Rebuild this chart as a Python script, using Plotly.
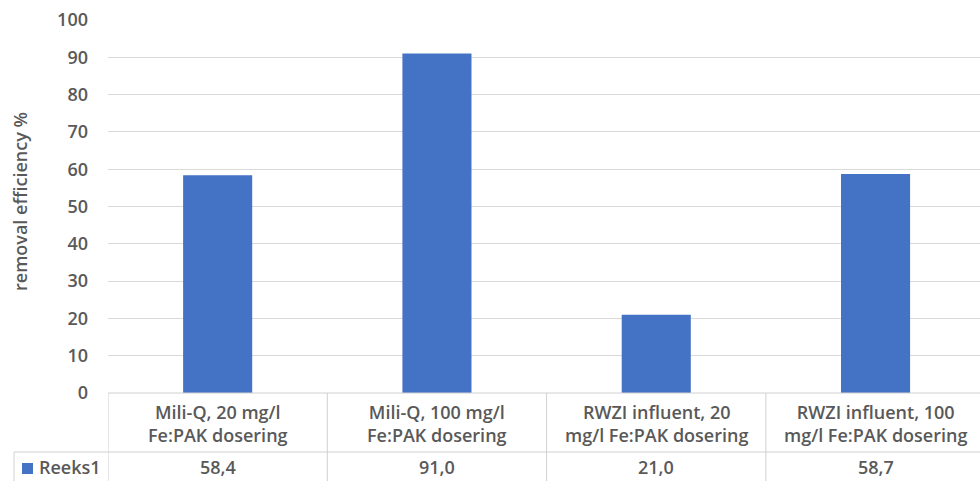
import plotly.graph_objects as go

# Category labels (wrapped as shown in the data table) and removal efficiencies
categories = [
    "Mili-Q, 20 mg/l<br>Fe:PAK dosering",
    "Mili-Q, 100 mg/l<br>Fe:PAK dosering",
    "RWZI influent, 20<br>mg/l Fe:PAK dosering",
    "RWZI influent, 100<br>mg/l Fe:PAK dosering",
]
series_name = "Reeks1"
values = [58.4, 91.0, 21.0, 58.7]
y_ticks = [0, 10, 20, 30, 40, 50, 60, 70, 80, 90, 100]

W, H = 980, 481
ML, MT, MB = 108, 20, 88
PW = W - ML
PH = H - MT - MB
CAT_W = 219.3  # pixel width of one category column

BAR = "#4472C4"
TXT = "#595959"
GRID = "#d9d9d9"
TABLE = "#d0d0d0"
FONT = "Open Sans"
FS = 18


def px_x(p):
    return (p - ML) / PW


def px_y(p):
    return (H - MB - p) / PH


def tfont(size=FS):
    return dict(family=FONT, color=TXT, size=size, weight=600)


idx = list(range(len(categories)))
fig = go.Figure(
    go.Bar(
        x=idx,
        y=values,
        marker=dict(color=BAR, line=dict(width=0)),
        width=0.315,
        name=series_name,
        hoverinfo="y",
    )
)

x_hi = -0.5 + PW / CAT_W

fig.update_layout(
    width=W,
    height=H,
    margin=dict(l=ML, r=0, t=MT, b=MB),
    paper_bgcolor="white",
    plot_bgcolor="white",
    showlegend=False,
    font=tfont(),
    xaxis=dict(
        range=[-0.5, x_hi],
        showticklabels=False,
        showgrid=False,
        zeroline=False,
        ticks="",
    ),
    yaxis=dict(
        range=[0, 100],
        tickvals=y_ticks,
        showgrid=True,
        gridcolor=GRID,
        gridwidth=1,
        zeroline=False,
        ticks="",
        ticklabelstandoff=19,
        tickfont=tfont(),
    ),
)

shapes = []
# Table top border (along the value axis zero)
shapes.append(dict(type="line", xref="paper", yref="paper", x0=0, x1=1.01,
                   y0=0, y1=0, line=dict(color=TABLE, width=1)))
# Divider between category row and value row
row_y = px_y(452)
shapes.append(dict(type="line", xref="paper", yref="paper", x0=px_x(14), x1=1.01,
                   y0=row_y, y1=row_y, line=dict(color=TABLE, width=1)))
# Column dividers
bottom = px_y(H + 2)
for k in range(len(categories) + 1):
    shapes.append(dict(type="line", xref="x", yref="paper", x0=k - 0.5, x1=k - 0.5,
                       y0=0, y1=bottom, line=dict(color=TABLE, width=1)))
# Left border of the series row
shapes.append(dict(type="line", xref="paper", yref="paper", x0=px_x(14), x1=px_x(14),
                   y0=row_y, y1=bottom, line=dict(color=TABLE, width=1)))
# Legend key square
shapes.append(dict(type="rect", xref="paper", yref="paper",
                   x0=px_x(22), x1=px_x(33), y0=px_y(474), y1=px_y(463),
                   fillcolor=BAR, line=dict(width=0)))

annotations = []
for i, lab in zip(idx, categories):
    annotations.append(dict(x=i, y=px_y(423), xref="x", yref="paper", text=lab,
                            showarrow=False, xanchor="center", yanchor="middle",
                            font=tfont()))
for i, v in zip(idx, values):
    annotations.append(dict(x=i, y=px_y(467), xref="x", yref="paper",
                            text=f"{v:.1f}".replace(".", ","),
                            showarrow=False, xanchor="center", yanchor="middle",
                            font=tfont()))
annotations.append(dict(x=px_x(37), y=px_y(467), xref="paper", yref="paper",
                        text=series_name, showarrow=False, xanchor="left", yanchor="middle",
                        font=tfont()))
# Value axis title
annotations.append(dict(x=px_x(20), y=px_y(202), xref="paper", yref="paper",
                        text="removal efficiency %", textangle=-90, showarrow=False,
                        xanchor="center", yanchor="middle",
                        font=tfont()))

fig.update_layout(shapes=shapes, annotations=annotations)
fig.write_html("out.html")
